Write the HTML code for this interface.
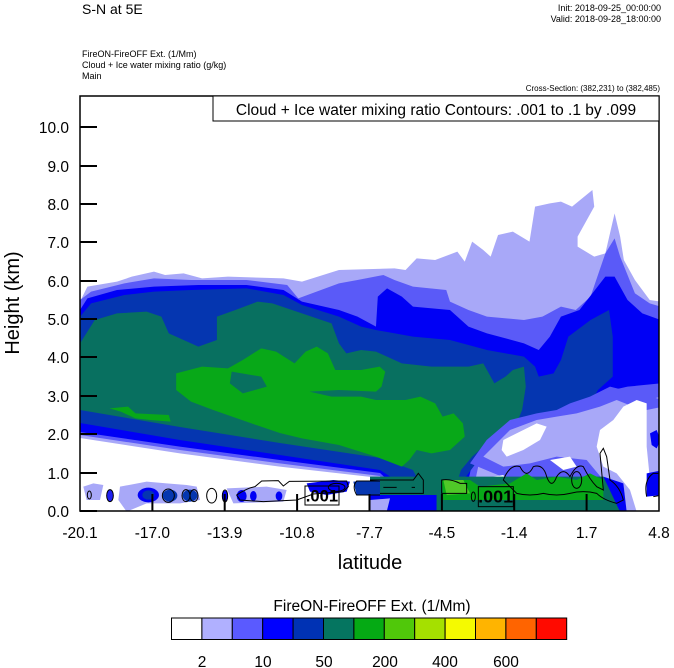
<!DOCTYPE html>
<html><head><meta charset="utf-8"><style>
html,body{margin:0;padding:0;background:#fff;}
svg{display:block;}
text{font-family:"Liberation Sans","DejaVu Sans",sans-serif;fill:#000;}
</style></head><body>
<svg width="674" height="668" viewBox="0 0 674 668" xmlns="http://www.w3.org/2000/svg">
<defs><clipPath id="pc"><rect x="80" y="96" width="579" height="415"/></clipPath></defs>
<g clip-path="url(#pc)">
<g transform="translate(80,170) scale(0.36996,0.33333)">
<polygon fill="#a8a8f8" points="0,395 20,350 100,335 140,320 200,305 230,315 280,310 330,325 400,320 550,325 600,335 700,300 850,295 880,300 910,265 960,270 1020,245 1040,275 1060,215 1090,240 1110,260 1130,195 1170,185 1215,215 1230,110 1270,100 1300,95 1330,110 1385,60 1390,110 1345,200 1345,230 1390,260 1420,250 1445,130 1460,200 1470,270 1500,330 1540,390 1570,395 1570,1030 830,1030 811,924 540,890 270,850 0,804"/>
<polygon fill="#5a5af8" points="0,390 30,365 120,340 200,325 300,330 450,330 560,345 590,385 700,340 750,330 820,315 850,330 900,350 990,360 1000,395 1050,420 1100,440 1200,450 1250,440 1300,410 1340,420 1380,380 1420,250 1445,205 1460,260 1500,370 1540,400 1570,410 1570,680 1500,700 1430,720 1400,760 1300,740 1250,760 1200,780 1100,830 1080,870 1050,1030 850,1030 811,918 540,880 270,840 0,795"/>
<polygon fill="#0000f5" points="0,420 20,385 100,360 200,350 320,345 450,345 550,360 600,395 700,420 750,440 800,470 805,380 830,355 870,380 900,410 1000,420 1050,470 1100,490 1200,520 1240,540 1270,500 1300,440 1350,420 1420,320 1445,320 1480,390 1520,430 1570,450 1570,640 1480,650 1440,660 1400,700 1350,760 1300,780 1250,740 1200,750 1150,790 1100,830 1060,880 1030,1030 870,1030 860,960 811,909 540,870 270,830 0,786"/>
<polygon fill="#0536b0" points="0,440 30,400 120,375 200,365 300,360 450,355 550,375 600,405 700,440 760,470 800,480 900,500 1000,510 1100,540 1200,560 1230,590 1240,620 1280,610 1300,570 1320,500 1380,450 1430,420 1440,500 1440,620 1400,660 1380,700 1320,740 1250,740 1200,760 1150,790 1100,830 1070,880 1030,940 1010,1030 900,1030 880,950 811,900 540,855 270,810 0,759"/>
<polygon fill="#087060" points="0,520 40,450 100,430 180,425 220,440 240,490 320,530 370,510 370,440 420,420 480,395 520,400 600,430 680,460 700,520 720,550 760,540 800,545 870,580 950,590 1050,590 1090,580 1110,620 1120,640 1150,620 1170,600 1200,590 1205,650 1195,720 1180,760 1150,790 1100,820 1060,860 1030,900 990,1030 960,1030 900,900 811,864 540,819 270,771 0,720"/>
<polygon fill="#08a818" points="260,610 330,590 400,595 440,570 490,535 530,545 580,580 610,545 640,530 670,550 690,600 760,600 810,590 825,605 815,650 800,665 700,660 620,665 680,680 760,680 800,690 880,690 920,680 960,700 980,740 1010,730 1035,760 1040,800 1000,840 950,850 910,840 890,870 870,890 800,860 700,825 600,805 540,789 450,755 360,720 300,695 260,660"/>
<polygon fill="#087060" points="410,605 490,620 505,650 440,670 405,640"/>
<polygon fill="#08a818" points="80,715 130,710 150,730 240,735 245,755 190,750 150,745 110,725"/>
</g>
<g transform="translate(370,380) scale(0.33333)">
<polygon fill="#5a5af8" points="300,250 350,180 420,120 500,100 560,90 600,70 660,50 720,20 800,40 880,60 880,300 800,300 760,330 740,395 500,395 420,300"/>
<polygon fill="#a8a8f8" points="340,230 420,150 500,120 560,110 620,100 690,80 740,60 790,80 830,90 880,80 880,395 770,395 750,330 700,300 650,240 560,230 480,250 400,260"/>
<polygon fill="#fff" points="400,180 460,150 500,130 530,140 510,180 460,210 410,230 395,210"/>
<polygon fill="#fff" points="690,150 730,120 760,80 800,60 830,70 830,200 840,300 880,330 880,395 800,395 780,330 740,280 700,260 680,200"/>
<polygon fill="#fff" points="540,240 600,230 620,260 580,270"/>
<polygon fill="#fff" points="370,290 400,285 410,300 380,305"/>
<polygon fill="#0000f5" points="840,160 860,150 872,180 860,205 845,195"/>
<polygon fill="#0000f5" points="700,290 760,310 770,395 700,395"/>
<polygon fill="#0000f5" points="830,280 880,270 880,345 830,350"/>
<polygon fill="#087060" points="0,290 200,290 200,345 0,345"/>
<polygon fill="#0000f5" points="0,345 200,345 200,395 0,395"/>
<polygon fill="#a8a8f8" points="0,360 60,355 50,395 0,395"/>
<polygon fill="#087060" points="200,290 700,290 750,395 200,395"/>
<polygon fill="#08a818" points="215,300 300,300 330,320 420,310 470,280 500,300 560,290 620,300 660,280 700,300 700,360 220,360"/>
<polygon fill="#50c828" points="220,300 280,300 300,340 230,345"/>
<g fill="none" stroke="#000" stroke-width="3">
<path d="M0,300 L130,300 L145,280 L160,300 L160,340 L0,340"/>
<path d="M40,322 L80,322 M125,322 L135,322"/>
<path d="M215,340 L215,300 Q240,295 270,310 L290,310 L290,340 Z"/>
<ellipse cx="310" cy="350" rx="6" ry="14"/>
<path d="M400,300 Q420,250 450,260 Q470,300 490,260 Q520,250 530,290 Q545,330 560,290 Q580,260 600,290 Q620,250 640,260 Q660,300 680,320 L700,330 L690,220 L700,205 L710,230 L720,300 Q750,320 760,360 L740,370 Q700,360 680,340 Q640,330 600,340 Q560,350 520,340 Q480,350 440,340 Z"/>
<ellipse cx="620" cy="300" rx="15" ry="25"/>
<path d="M830,350 Q820,300 850,280 L876,280 M876,345 L850,350"/>
<rect x="325" y="320" width="105" height="60"/>
</g>
<text x="377" y="367" font-size="54" font-weight="bold" text-anchor="middle">.001</text>
</g>
<g transform="translate(80,420) scale(0.33333)">
<polygon fill="#a8a8f8" points="10,200 40,190 70,195 60,240 20,240"/>
<polygon fill="#a8a8f8" points="120,200 200,185 260,190 320,195 350,200 360,240 300,250 200,250 140,275 115,240"/>
<polygon fill="#a8a8f8" points="440,205 560,200 620,210 610,245 460,250"/>
<ellipse cx="90" cy="227" rx="10" ry="18" fill="#2020f0"/>
<ellipse cx="205" cy="225" rx="32" ry="22" fill="#0000f5"/>
<ellipse cx="205" cy="225" rx="18" ry="14" fill="#0536b0"/>
<ellipse cx="270" cy="227" rx="22" ry="18" fill="#0536b0"/>
<ellipse cx="330" cy="227" rx="22" ry="18" fill="#0536b0"/>
<ellipse cx="435" cy="228" rx="8" ry="16" fill="#0000f5"/>
<ellipse cx="485" cy="228" rx="15" ry="18" fill="#0000f5"/>
<ellipse cx="520" cy="228" rx="10" ry="15" fill="#0000f5"/>
<ellipse cx="597" cy="228" rx="10" ry="14" fill="#0000f5"/>
<polygon fill="#0000f5" points="680,190 760,180 810,185 800,215 740,225 690,215"/>
<polygon fill="#0536b0" points="820,185 900,180 900,225 830,225"/>
<g fill="none" stroke="#000" stroke-width="3">
<ellipse cx="28" cy="225" rx="6" ry="12"/>
<ellipse cx="90" cy="227" rx="10" ry="18"/>
<ellipse cx="265" cy="227" rx="18" ry="20"/>
<ellipse cx="318" cy="227" rx="12" ry="18"/>
<ellipse cx="342" cy="227" rx="12" ry="18"/>
<ellipse cx="395" cy="227" rx="15" ry="22"/>
<ellipse cx="435" cy="228" rx="8" ry="18"/>
<path d="M470,225 Q500,205 525,200 L545,183 L595,182 L610,198 L628,184 L800,183 L805,200 L790,215 L700,222 L650,240 L550,245 L480,240 Z"/>
<ellipse cx="770" cy="202" rx="25" ry="12"/>
<path d="M900,183 L830,183 Q815,200 830,225 L900,225"/>
<rect x="675" y="198" width="102" height="57"/>
</g>
<text x="726" y="245" font-size="50" font-weight="bold" text-anchor="middle">.001</text>
</g>
</g>
<rect x="80" y="96" width="579" height="415" fill="none" stroke="#000" stroke-width="1.5"/>
<rect x="213" y="96" width="446" height="25" fill="#fff" stroke="#000" stroke-width="1"/>
<text x="436" y="115" font-size="15.5" text-anchor="middle">Cloud + Ice water mixing ratio Contours: .001 to .1 by .099</text>
<g stroke="#000" stroke-width="2">
<line x1="80" y1="511" x2="97" y2="511"/><line x1="80" y1="473" x2="97" y2="473"/><line x1="80" y1="434" x2="97" y2="434"/><line x1="80" y1="396" x2="97" y2="396"/><line x1="80" y1="357" x2="97" y2="357"/><line x1="80" y1="319" x2="97" y2="319"/><line x1="80" y1="281" x2="97" y2="281"/><line x1="80" y1="242" x2="97" y2="242"/><line x1="80" y1="204" x2="97" y2="204"/><line x1="80" y1="166" x2="97" y2="166"/><line x1="80" y1="127" x2="97" y2="127"/>
<line x1="152.4" y1="511" x2="152.4" y2="494"/><line x1="224.7" y1="511" x2="224.7" y2="494"/><line x1="297.1" y1="511" x2="297.1" y2="494"/><line x1="369.5" y1="511" x2="369.5" y2="494"/><line x1="441.9" y1="511" x2="441.9" y2="494"/><line x1="514.2" y1="511" x2="514.2" y2="494"/><line x1="586.6" y1="511" x2="586.6" y2="494"/>
</g>
<g font-size="15.5" text-anchor="end">
<text x="69" y="517">0.0</text><text x="69" y="479">1.0</text><text x="69" y="440">2.0</text><text x="69" y="402">3.0</text><text x="69" y="363">4.0</text><text x="69" y="325">5.0</text><text x="69" y="287">6.0</text><text x="69" y="248">7.0</text><text x="69" y="210">8.0</text><text x="69" y="172">9.0</text><text x="69" y="133">10.0</text>
</g>
<g font-size="15.5" text-anchor="middle">
<text x="80" y="538">-20.1</text><text x="152.4" y="538">-17.0</text><text x="224.7" y="538">-13.9</text><text x="297.1" y="538">-10.8</text><text x="369.5" y="538">-7.7</text><text x="441.9" y="538">-4.5</text><text x="514.2" y="538">-1.4</text><text x="586.6" y="538">1.7</text><text x="659" y="538">4.8</text>
</g>
<text x="370" y="569" font-size="20" text-anchor="middle">latitude</text>
<text transform="translate(19,303) rotate(-90)" font-size="20" text-anchor="middle">Height (km)</text>
<text x="82" y="14" font-size="14">S-N at 5E</text>
<text x="661" y="11" font-size="9" text-anchor="end">Init: 2018-09-25_00:00:00</text>
<text x="661" y="22" font-size="9" text-anchor="end">Valid: 2018-09-28_18:00:00</text>
<text x="82" y="57" font-size="9">FireON-FireOFF Ext.   (1/Mm)</text>
<text x="82" y="68" font-size="9">Cloud + Ice water mixing ratio   (g/kg)</text>
<text x="82" y="79" font-size="9">Main</text>
<text x="660" y="91" font-size="8" text-anchor="end">Cross-Section: (382,231) to (382,485)</text>
<text x="372" y="611" font-size="15.5" text-anchor="middle">FireON-FireOFF Ext.  (1/Mm)</text>
<g stroke="#000" stroke-width="1">
<rect x="171.5" y="618" width="30.4" height="21.5" fill="#ffffff"/>
<rect x="201.9" y="618" width="30.4" height="21.5" fill="#b0b0ff"/>
<rect x="232.3" y="618" width="30.4" height="21.5" fill="#5a5aff"/>
<rect x="262.7" y="618" width="30.4" height="21.5" fill="#0000ff"/>
<rect x="293.1" y="618" width="30.4" height="21.5" fill="#0032b4"/>
<rect x="323.5" y="618" width="30.4" height="21.5" fill="#057560"/>
<rect x="353.9" y="618" width="30.4" height="21.5" fill="#05aa14"/>
<rect x="384.3" y="618" width="30.4" height="21.5" fill="#50c80a"/>
<rect x="414.7" y="618" width="30.4" height="21.5" fill="#a5e000"/>
<rect x="445.1" y="618" width="30.4" height="21.5" fill="#f5fa00"/>
<rect x="475.5" y="618" width="30.4" height="21.5" fill="#ffb400"/>
<rect x="505.9" y="618" width="30.4" height="21.5" fill="#ff6400"/>
<rect x="536.3" y="618" width="30.4" height="21.5" fill="#ff0a00"/>
</g>
<g font-size="15.5" text-anchor="middle">
<text x="202" y="667">2</text><text x="263" y="667">10</text><text x="324" y="667">50</text><text x="385" y="667">200</text><text x="445" y="667">400</text><text x="506" y="667">600</text>
</g>
</svg>
</body></html>
